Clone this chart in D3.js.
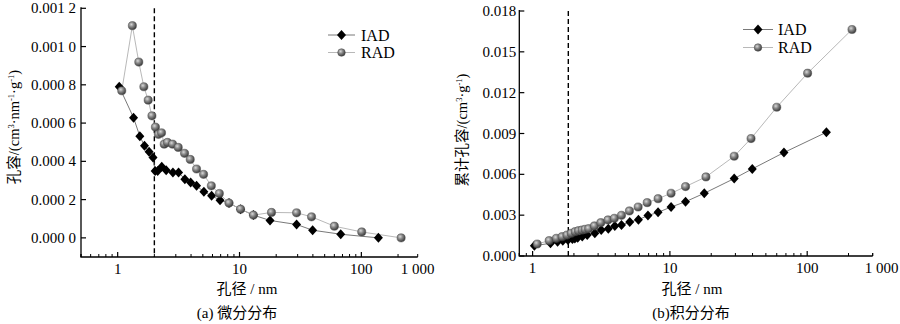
<!DOCTYPE html>
<html><head><meta charset="utf-8">
<script src="https://cdn.jsdelivr.net/npm/d3@7"></script>
<style>body{margin:0;background:#fff}svg{display:block}</style>
</head><body>
<svg id="c" width="900" height="324"></svg>
<script>
// values in units of 1e-3
const UNIT = 1e-3;
const iadD = [1.03,1.35,1.52,1.66,1.81,1.95,2.03,2.13,2.30,2.50,2.84,3.16,3.56,3.97,4.44,5.10,5.90,6.92,8.2,10.2,13.0,17.8,29.4,39.8,67.7,138];
const iadDiff = [0.790,0.628,0.531,0.481,0.450,0.420,0.349,0.350,0.372,0.353,0.342,0.342,0.307,0.290,0.272,0.241,0.220,0.197,0.182,0.150,0.119,0.091,0.070,0.040,0.019,0.000];
const iadCum = [0.76,0.93,1.05,1.12,1.18,1.24,1.29,1.35,1.43,1.55,1.67,1.91,2.01,2.21,2.28,2.50,2.67,2.97,3.21,3.60,3.99,4.61,5.69,6.40,7.60,9.09];
const radD = [1.08,1.32,1.49,1.64,1.78,1.91,2.04,2.16,2.29,2.41,2.56,2.82,3.14,3.54,3.94,4.44,5.07,5.87,6.83,8.2,10.2,13.0,18.3,29.4,39.0,60.0,100.7,212];
const radDiff = [0.769,1.109,0.919,0.790,0.720,0.638,0.579,0.541,0.549,0.490,0.499,0.490,0.473,0.442,0.410,0.360,0.332,0.272,0.232,0.182,0.150,0.119,0.133,0.131,0.110,0.061,0.031,0.000];
const radCum = [0.88,1.13,1.30,1.42,1.54,1.67,1.79,1.86,1.91,1.96,2.01,2.21,2.45,2.65,2.77,2.99,3.31,3.60,3.92,4.21,4.61,5.10,5.81,7.33,8.63,10.93,13.43,16.64];
const seriesNames = ["IAD","RAD"];
const yTicksA = [0,0.0002,0.0004,0.0006,0.0008,0.0010,0.0012];
const yTicksB = [0,0.003,0.006,0.009,0.012,0.015,0.018];
const xMajor = [1,10,100];
const xEndLabel = "1 000";
const micro = [2, 1.82];

const svg = d3.select("#c");
const serif = "'Liberation Serif','Times New Roman',serif";
const cjk = "'Liberation Serif','Noto Sans CJK SC',serif";

const defs = svg.append("defs");
const g = defs.append("radialGradient").attr("id","sph").attr("cx","38%").attr("cy","35%").attr("r","65%");
g.append("stop").attr("offset","0%").attr("stop-color","#d8d8d8");
g.append("stop").attr("offset","45%").attr("stop-color","#888888");
g.append("stop").attr("offset","100%").attr("stop-color","#3c3c3c");

const diamond = "M0,-5L4.5,0L0,5L-4.5,0Z";

function panel(o){
  const x = d3.scaleLog().domain(o.xd).range(o.xr);
  const y = d3.scaleLinear().domain(o.yd).range(o.yr);
  const G = svg.append("g");
  const minors = [];
  for (let e=-1;e<=2;e++) for (let m=2;m<=9;m++){const v=m*Math.pow(10,e); if(v>=o.xd[0]&&v<=o.xd[1]) minors.push(v);}
  [o.xd[0],o.xd[1]].forEach(v=>minors.push(v));
  G.selectAll(".mn").data(minors).join("line").attr("x1",d=>x(d)).attr("x2",d=>x(d))
    .attr("y1",o.yr[0]).attr("y2",o.yr[0]-3).attr("stroke","#000").attr("stroke-width",1);
  G.selectAll(".mj").data(xMajor).join("line").attr("x1",d=>x(d)).attr("x2",d=>x(d))
    .attr("y1",o.yr[0]).attr("y2",o.yr[0]-5).attr("stroke","#000").attr("stroke-width",1.2);
  G.selectAll(".xl").data(xMajor).join("text").attr("x",d=>x(d)).attr("y",o.yr[0]+17)
    .attr("text-anchor","middle").attr("font-family",serif).attr("font-size",15).text(d=>d);
  G.append("text").attr("x",x(o.xd[1])+o.endDx).attr("y",o.yr[0]+17).attr("text-anchor","middle")
    .attr("font-family",serif).attr("font-size",15).text(xEndLabel);
  G.selectAll(".yt").data(o.yt).join("line").attr("x1",o.xr[0]).attr("x2",o.xr[0]+5)
    .attr("y1",d=>y(d)).attr("y2",d=>y(d)).attr("stroke","#000").attr("stroke-width",1.2);
  G.selectAll(".yl").data(o.yt).join("text").attr("x",o.xr[0]-o.ylgap).attr("y",d=>y(d)+5)
    .attr("text-anchor","end").attr("font-family",serif).attr("font-size",15).text(o.fmt);
  G.append("path").attr("d",`M${o.xr[0]},${o.yr[1]-1}V${o.yr[0]}H${o.xr[1]}`)
    .attr("fill","none").attr("stroke","#000").attr("stroke-width",1.3);
  G.append("line").attr("x1",x(o.dash)).attr("x2",x(o.dash)).attr("y1",o.yr[1]).attr("y2",o.yr[0])
    .attr("stroke","#000").attr("stroke-width",1.4).attr("stroke-dasharray","5,3");
  const line = d3.line().x(d=>x(d[0])).y(d=>y(d[1]*UNIT));
  const iad = iadD.map((d,i)=>[d,o.iad[i]]);
  const rad = radD.map((d,i)=>[d,o.rad[i]]);
  G.append("path").attr("d",line(iad)).attr("fill","none").attr("stroke","#6a6a6a").attr("stroke-width",0.9);
  G.append("path").attr("d",line(rad)).attr("fill","none").attr("stroke","#b0b0b0").attr("stroke-width",0.9);
  G.selectAll(".di").data(iad).join("path").attr("d",diamond)
    .attr("transform",d=>`translate(${x(d[0])},${y(d[1]*UNIT)})`).attr("fill","#000");
  G.selectAll(".sp").data(rad).join("circle").attr("cx",d=>x(d[0])).attr("cy",d=>y(d[1]*UNIT))
    .attr("r",4.1).attr("fill","url(#sph)").attr("stroke","#4a4a4a").attr("stroke-width",0.5);
  const L = o.leg;
  [[seriesNames[0],"#6a6a6a",0],[seriesNames[1],"#b0b0b0",1]].forEach(([nm,col,k])=>{
    const yy = L.y + k*L.dy;
    G.append("line").attr("x1",L.x0).attr("x2",L.x1).attr("y1",yy).attr("y2",yy).attr("stroke",col).attr("stroke-width",0.9);
    const cx=(L.x0+L.x1)/2;
    if(k===0) G.append("path").attr("d",diamond).attr("transform",`translate(${cx},${yy})`).attr("fill","#000");
    else G.append("circle").attr("cx",cx).attr("cy",yy).attr("r",3.8).attr("fill","url(#sph)").attr("stroke","#4a4a4a").attr("stroke-width",0.5);
    G.append("text").attr("x",L.tx).attr("y",yy+5.5).attr("font-family",serif).attr("font-size",16).text(nm);
  });
  G.append("text").attr("x",o.xtx).attr("y",294).attr("text-anchor","middle").attr("font-family",cjk).attr("font-size",15).text("孔径 / nm");
  G.append("text").attr("x",o.capx).attr("y",318).attr("text-anchor","middle").attr("font-family",cjk).attr("font-size",15).text(o.cap);
  const t = G.append("text").attr("transform",`translate(${o.ytx},${o.yty}) rotate(-90)`)
    .attr("text-anchor","middle").attr("font-family",cjk).attr("font-size",14.5);
  let prevSup = false;
  o.ytitle.forEach(([s,sup])=>{
    if(sup){ t.append("tspan").attr("font-size",8.5).attr("dy",prevSup?0:-5).text(s); }
    else { t.append("tspan").attr("dy",prevSup?5:0).text(s); }
    prevSup = !!sup;
  });
}

const fmtA = d => { const s = d3.format(".4f")(d); return s.slice(0,-1)+" "+s.slice(-1); };
panel({xd:[0.5,290], xr:[81,417.7], yd:[-0.0001,0.0012], yr:[257,8.3], yt:yTicksA, fmt:fmtA, ylgap:5,
  dash:micro[0], iad:iadDiff, rad:radDiff, endDx:0,
  leg:{x0:328,x1:355,y:35,dy:17.5,tx:361},
  xtx:247, capx:237, cap:"(a) 微分分布",
  ytx:19, yty:127, ytitle:[["孔容/(cm",0],["3",1],["·nm",0],["-1",1],["·g",0],["-1",1],[")",0]]});
panel({xd:[0.8,300], xr:[519.3,872.7], yd:[0,0.018], yr:[256,11], yt:yTicksB, fmt:d3.format(".3f"), ylgap:3,
  dash:micro[1], iad:iadCum, rad:radCum, endDx:9,
  leg:{x0:743,x1:773,y:29.5,dy:18,tx:778},
  xtx:692, capx:691, cap:"(b)积分分布",
  ytx:467, yty:130, ytitle:[["累计孔容/(cm",0],["3",1],["·g",0],["-1",1],[")",0]]});
</script>
</body></html>
